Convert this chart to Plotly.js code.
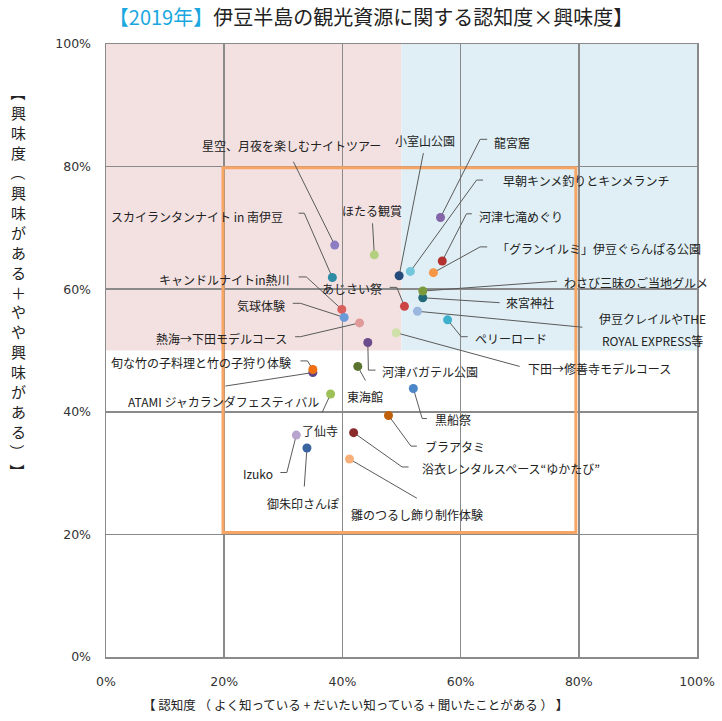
<!DOCTYPE html>
<html>
<head>
<meta charset="utf-8">
<script src="https://cdn.plot.ly/plotly-3.0.1.min.js"></script>
<style>html,body{margin:0;padding:0;background:#fff;}#chart{width:722px;height:721px;}</style>
</head>
<body>
<div id="chart"></div>
<script>
// ---- data (values in %) ----
const names = [
  "星空、月夜を楽しむナイトツアー",
  "ほたる観賞",
  "スカイランタンナイト in 南伊豆",
  "小室山公園",
  "早朝キンメ釣りとキンメランチ",
  "龍宮窟",
  "河津七滝めぐり",
  "「グランイルミ」伊豆ぐらんぱる公園",
  "來宮神社",
  "わさび三昧のご当地グルメ",
  "あじさい祭",
  "伊豆クレイルやTHE ROYAL EXPRESS等",
  "ペリーロード",
  "下田→修善寺モデルコース",
  "キャンドルナイトin熱川",
  "気球体験",
  "熱海→下田モデルコース",
  "河津バガテル公園",
  "ATAMI ジャカランダフェスティバル",
  "旬な竹の子料理と竹の子狩り体験",
  "東海館",
  "了仙寺",
  "黒船祭",
  "ブラアタミ",
  "浴衣レンタルスペース“ゆかたび”",
  "雛のつるし飾り制作体験",
  "Izuko",
  "御朱印さんぽ"
];
const awareness = [38.7, 45.4, 38.3, 49.6, 51.5, 56.6, 56.9, 55.4, 53.6, 53.6, 50.5, 52.7, 57.8, 49.1,
                   39.9, 40.3, 42.9, 44.3, 35.0, 35.0, 42.6, 38.0, 52.0, 47.8, 41.9, 41.2, 32.2, 34.0];
const interest  = [67.2, 65.6, 61.9, 62.2, 62.9, 71.7, 64.6, 62.7, 58.6, 59.7, 57.2, 56.4, 55.0, 52.9,
                   56.7, 55.4, 54.5, 51.3, 46.4, 46.9, 47.4, 42.9, 43.8, 39.4, 36.6, 32.3, 36.2, 34.1];
const tickVals = [0, 20, 40, 60, 80, 100];
const tickText = ["0%", "20%", "40%", "60%", "80%", "100%"];
const xTitle = "【 認知度 （ よく知っている + だいたい知っている + 聞いたことがある ） 】";
const yTitleChars = ["【", "興", "味", "度", "（", "興", "味", "が", "あ", "る", "＋",
                     "や", "や", "興", "味", "が", "あ", "る", "）", "】"];

// ---- styles ----
const colors = ["#8e7cc3", "#b3d07e", "#2f8ca6", "#254a7c", "#73c6dc", "#8466a8", "#b3312f", "#f79646",
                "#216878", "#7a9a3c", "#cc4444", "#9bb7e0", "#3fb0cc", "#cfe0a8", "#d9605c", "#6a9ad8",
                "#e09a9a", "#6a4c8c", "#5e4686", "#f07010", "#5b7530", "#9dc156", "#4a86c8", "#c0600a",
                "#8a2a2a", "#f8b07a", "#b8a4cc", "#3a64a0"];

// ---- label placement (layout, in axis units) ----
const labelX = [31.4, 45.0, 30.3, 53.9, 66.8, 65.3, 62.8, 65.9, 67.4, 77.2, 47.0, 92.4, 62.1, 71.1,
                31.5, 30.7, 30.9, 46.4, 19.85, 31.7, 43.9, 36.2, 55.3, 53.7, 53.1, 41.2, 28.65, 33.4];
const labelY = [83.5, 72.9, 71.9, 84.2, 77.7, 83.9, 71.8, 66.7, 57.8, 61.1, 60.15, 53.4, 52.0, 47.1,
                61.6, 57.4, 52.0, 46.5, 41.65, 48.0, 42.5, 36.9, 38.8, 34.3, 30.7, 23.3, 30.0, 25.1];
const labelAnchor = ["center", "center", "right", "center", "left", "left", "left", "left", "left", "left",
                     "right", "center", "left", "left", "right", "right", "right", "left", "center", "right",
                     "center", "center", "left", "left", "left", "left", "right", "center"];
const labelLines = {11: ["伊豆クレイルやTHE", "ROYAL EXPRESS等"]};
const lineGap = 3.65;
const leaderPts = [
  [[31.7, 80.8]], [[45.1, 70.75]], [[32.6, 72.4], [33.55, 72.4]], [[53.7, 82.2]],
  [[63.8, 77.8], [62.7, 77.8]], [[64.5, 84.45], [63.3, 84.45]], [[61.9, 72.3], [61.0, 72.3]],
  [[64.5, 66.9], [63.3, 66.9]], [[66.6, 57.8]], [[76.3, 61.3]], [[48.0, 60.3], [49.2, 60.3]],
  [[80.6, 53.8]], [[61.2, 52.25], [60.1, 52.25]], [[70.0, 47.4]],
  [[32.6, 62.0], [33.9, 62.0]], [[31.6, 57.7], [32.9, 57.7]], [[32.0, 52.25], [32.9, 52.25]],
  [[45.6, 46.8], [44.4, 46.8]], [[20.2, 44.2]], [[32.9, 48.3], [34.1, 48.3]], [[43.9, 45.1]],
  [[36.55, 39.85]], [[54.3, 38.9], [53.5, 38.9]], [[52.6, 34.4], [51.6, 34.4]],
  [[51.2, 31.0], [50.1, 31.0]], [[52.6, 25.9]], [[29.5, 30.1], [30.6, 30.1]], [[33.55, 27.8]]
];

const jpFont = "Noto Sans CJK JP, sans-serif";
const shapes = [
  {type: "rect", xref: "x", yref: "y", x0: 0, x1: 50, y0: 50, y1: 100, fillcolor: "#f3e1e1", line: {width: 0}, layer: "below"},
  {type: "rect", xref: "x", yref: "y", x0: 50, x1: 100, y0: 50, y1: 100, fillcolor: "#dfeff5", line: {width: 0}, layer: "below"},
  {type: "rect", xref: "x", yref: "y", x0: 19.8, x1: 79.5, y0: 20.3, y1: 79.8, fillcolor: "rgba(0,0,0,0)",
   line: {color: "#f6a565", width: 3}, layer: "between"}
];
const annotations = [];
names.forEach((n, i) => {
  const pts = leaderPts[i].concat([[awareness[i], interest[i]]]);
  const d = pts.map((p, k) => (k === 0 ? "M" : "L") + p[0] + "," + p[1]).join(" ");
  shapes.push({type: "path", xref: "x", yref: "y", path: d, line: {color: "#5a5a5a", width: 1}, layer: "between"});
  const lines = labelLines[i] || [n];
  lines.forEach((t, k) => {
    const off = (lines.length - 1) / 2 - k;
    annotations.push({
      xref: "x", yref: "y", x: labelX[i], y: labelY[i] + off * lineGap,
      text: t, showarrow: false, xanchor: labelAnchor[i], yanchor: "middle",
      font: {family: jpFont, size: 12, color: "#222222"}
    });
  });
});
annotations.push({
  xref: "paper", yref: "paper", x: (355 - 106) / 591, y: -(704 - 657) / 613,
  text: xTitle, showarrow: false, xanchor: "center", yanchor: "middle",
  font: {family: jpFont, size: 12.5, color: "#222222"}
});
// vertical (tategaki) y-axis title: one character per row, brackets turned
const yTop = 93, yStep = 19.9;
yTitleChars.forEach((c, k) => {
  const turned = "【（）】".indexOf(c) >= 0;
  annotations.push({
    xref: "paper", yref: "paper", x: (18 - 106) / 591, y: (657 - (yTop + k * yStep)) / 613,
    text: c, showarrow: false, xanchor: "center", yanchor: "middle",
    textangle: turned ? 90 : 0,
    font: {family: jpFont, size: 15, color: "#222222"}
  });
});

const axisCommon = {
  range: [0, 100], showgrid: true, gridcolor: "#8a8a8a", gridwidth: 1.5,
  showline: true, mirror: true, linecolor: "#8a8a8a", linewidth: 1.5, zeroline: false,
  ticks: "", fixedrange: true, tickmode: "array", tickvals: tickVals, ticktext: tickText,
  tickfont: {family: "DejaVu Sans, sans-serif", size: 12.5, color: "#333333"}
};

const trace = {
  type: "scatter", mode: "markers", x: awareness, y: interest, text: names,
  marker: {color: colors, size: 9, line: {width: 0}},
  hoverinfo: "text", cliponaxis: false
};

const layout = {
  width: 722, height: 721,
  margin: {l: 106, r: 25, t: 44, b: 64},
  paper_bgcolor: "#ffffff", plot_bgcolor: "#ffffff",
  showlegend: false,
  title: {
    text: "<span style='color:#1aa7e0'>【2019年】</span>伊豆半島の観光資源に関する認知度×興味度】",
    font: {family: jpFont, size: 20, color: "#222222"},
    x: 371 / 722, xanchor: "center", xref: "container",
    y: 1 - 18 / 721, yanchor: "middle", yref: "container"
  },
  xaxis: Object.assign({}, axisCommon, {ticklabelstandoff: 12}),
  yaxis: Object.assign({}, axisCommon, {ticklabelstandoff: 11}),
  shapes: shapes,
  annotations: annotations
};

Plotly.newPlot("chart", [trace], layout, {displayModeBar: false, staticPlot: true});
</script>
</body>
</html>
